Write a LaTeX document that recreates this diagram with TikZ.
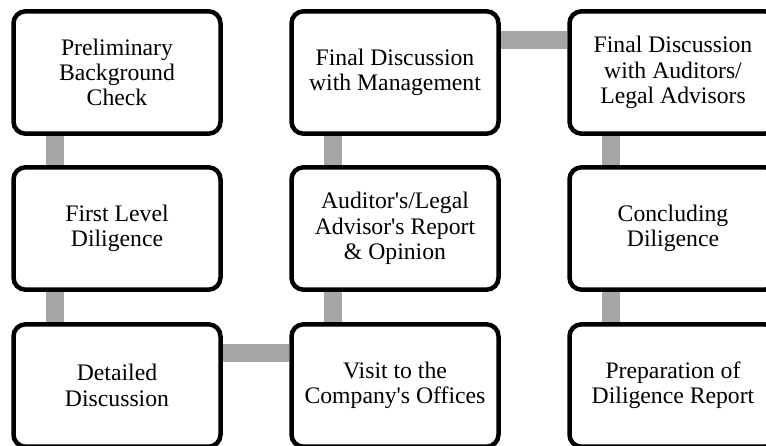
\documentclass[tikz,border=0pt]{standalone}
\usepackage{fontspec}
\setmainfont{Liberation Serif}
\usepackage{xcolor}
\usepackage{tikz}
\definecolor{linkgray}{RGB}{166,166,166}

\begin{document}
\begin{tikzpicture}[x=1pt, y=1pt,
                    stepbox/.style={draw=black, fill=white, line width=4.5pt,
                    rounded corners=12pt, minimum width=207pt,
                    minimum height=122.4pt, inner sep=0pt, align=center,
                    font=\fontsize{23.7}{25.3}\selectfont},
                    link/.style={draw=linkgray, line width=18.5pt}]
                        \useasboundingbox (0,0) rectangle (766,445);
                        \clip (0,0) rectangle (766,445);
                        \node[stepbox] (prelim) at (117,372.5)
                        {Preliminary\\Background\\Check};
                        \node[stepbox] (firstlevel) at (117,216.5)
                        {First Level\\Diligence};
                        \node[stepbox] (detailed) at (117,59.5)
                        {Detailed\\Discussion};
                        \node[stepbox] (visit) at (395,59.5)
                        {Visit to the\\Company\textquotesingle s Offices};
                        \node[stepbox] (report) at (395,216.5)
                        {Auditor\textquotesingle s/Legal\\
                        Advisor\textquotesingle s Report\\\& Opinion};
                        \node[stepbox] (mgmt) at (395,372.5)
                        {Final Discussion\\with Management};
                        \node[stepbox] (auditors) at (673,372.5)
                        {Final Discussion\\with Auditors/\\Legal Advisors};
                        \node[stepbox] (concluding) at (673,216.5)
                        {Concluding\\Diligence};
                        \node[stepbox] (prepreport) at (673,59.5)
                        {Preparation of\\Diligence Report};
                        \draw[link] ([xshift=-62pt]prelim.south) --
                        ([xshift=-62pt]firstlevel.north);
                        \draw[link] ([xshift=-62pt]firstlevel.south) --
                        ([xshift=-62pt]detailed.north);
                        \draw[link] ([yshift=32.5pt]detailed.east) --
                        ([yshift=32.5pt]visit.west);
                        \draw[link] ([xshift=-62pt]visit.north) --
                        ([xshift=-62pt]report.south);
                        \draw[link] ([xshift=-62pt]report.north) --
                        ([xshift=-62pt]mgmt.south);
                        \draw[link] ([yshift=32.5pt]mgmt.east) --
                        ([yshift=32.5pt]auditors.west);
                        \draw[link] ([xshift=-62pt]auditors.south) --
                        ([xshift=-62pt]concluding.north);
                        \draw[link] ([xshift=-62pt]concluding.south) --
                        ([xshift=-62pt]prepreport.north);
                    \end{tikzpicture}
\end{document}
